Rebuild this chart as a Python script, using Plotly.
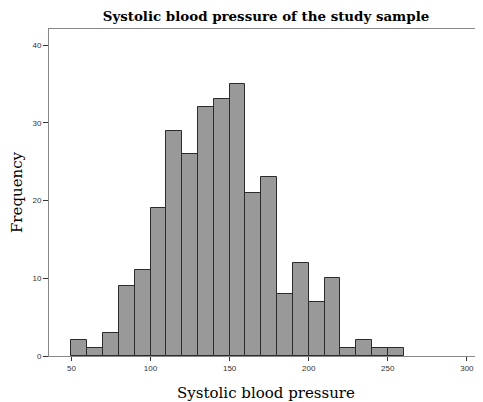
import plotly.graph_objects as go

bin_starts = [50, 60, 70, 80, 90, 100, 110, 120, 130, 140, 150, 160, 170, 180, 190, 200, 210, 220, 230, 240, 250]
counts = [2, 1, 3, 9, 11, 19, 29, 26, 32, 33, 35, 21, 23, 8, 12, 7, 10, 1, 2, 1, 1]
bin_width = 10
x_ticks = [50, 100, 150, 200, 250, 300]
y_ticks = [0, 10, 20, 30, 40]

centers = [s + bin_width / 2 for s in bin_starts]

fig = go.Figure(go.Bar(
    x=centers, y=counts, width=[bin_width] * len(counts),
    marker=dict(color="#999999", line=dict(color="#2b2b2b", width=1)),
    showlegend=False,
))

fig.update_layout(
    width=475, height=394,
    margin=dict(l=36, r=0, t=21, b=46),
    paper_bgcolor="white", plot_bgcolor="white",
    title=dict(text="<b>Systolic blood pressure of the study sample</b>",
               font=dict(family="DejaVu Serif", size=13.4, color="black"),
               x=0.5, xref="paper", xanchor="center",
               y=1 - 8 / 394, yanchor="middle"),
    bargap=0,
)
fig.update_xaxes(
    range=[35.8, 310.2], tickvals=x_ticks, ticks="outside", ticklen=4,
    tickcolor="#333333", tickfont=dict(family="Liberation Sans", size=8, color="#333333"),
    showline=True, linecolor="#888888", linewidth=1, mirror=True,
    showgrid=False, zeroline=False,
    title=dict(text="Systolic blood pressure",
               font=dict(family="DejaVu Serif", size=15, color="black"), standoff=16),
)
fig.update_yaxes(
    range=[0, 42.06], tickvals=y_ticks, ticks="outside", ticklen=5,
    tickcolor="#333333", tickfont=dict(family="Liberation Sans", size=8, color="#333333"),
    showline=True, linecolor="#888888", linewidth=1,
    showgrid=False, zeroline=False,
    title=dict(text="Frequency",
               font=dict(family="DejaVu Serif", size=15, color="black"), standoff=14),
)

fig.write_html("out.html")
